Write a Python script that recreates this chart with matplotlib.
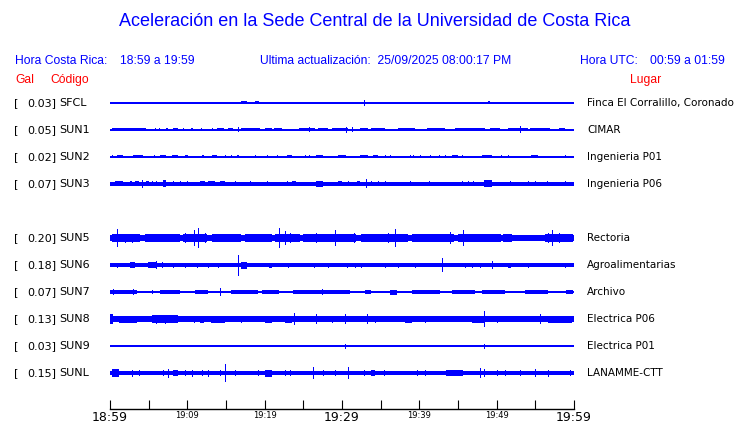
import matplotlib
matplotlib.use("Agg")
import matplotlib.pyplot as plt

# Station data (order top to bottom; row 4 is empty in the reference)
stations = ["SFCL", "SUN1", "SUN2", "SUN3", "SUN5", "SUN6", "SUN7", "SUN8", "SUN9", "SUNL"]
pga_gal = [0.03, 0.05, 0.02, 0.07, 0.20, 0.18, 0.07, 0.13, 0.03, 0.15]
places = ["Finca El Corralillo, Coronado", "CIMAR", "Ingenieria P01", "Ingenieria P06",
          "Rectoria", "Agroalimentarias", "Archivo", "Electrica P06", "Electrica P01",
          "LANAMME-CTT"]
rows = [0, 1, 2, 3, 5, 6, 7, 8, 9, 10]

# Background half-thickness of each trace (px)
base_half = [0.6, 0.7, 0.6, 1.8, 2.9, 1.8, 1.4, 2.8, 0.9, 1.7]

# Bursts: (start minute, end minute, half height px)
sfcl = [(4.5, 4.6, 1.4), (15.1, 15.2, 1.4), (17.0, 17.7, 1.5), (18.7, 19.3, 1.5),
        (28.1, 28.1, 1.0), (31.1, 31.1, 1.4), (32.8, 32.8, 2.8), (48.9, 49.1, 1.5)]
sun1 = [(0.2, 4.7, 1.5), (5.8, 5.9, 1.5), (6.4, 6.5, 1.5), (7.3, 7.5, 1.5), (8.2, 8.8, 1.5),
        (9.5, 9.6, 1.5), (10.5, 10.7, 1.5), (11.8, 11.9, 1.5), (13.2, 13.3, 1.5),
        (13.8, 14.8, 1.5), (15.2, 15.9, 1.5), (17.0, 19.4, 1.5), (20.0, 20.9, 1.5),
        (21.2, 22.2, 1.5), (24.4, 26.5, 1.5), (26.9, 28.2, 1.5), (28.7, 30.8, 1.5),
        (32.3, 33.4, 1.5), (33.8, 35.6, 1.5), (37.3, 39.4, 1.5), (41.0, 43.3, 1.5),
        (44.6, 48.5, 1.5), (49.1, 50.4, 1.5), (51.5, 54.1, 1.5), (54.3, 56.9, 1.5),
        (58.0, 58.8, 1.5), (16.6, 16.6, 2.5), (25.7, 25.7, 2.5), (30.5, 30.5, 3.0),
        (31.3, 31.3, 2.5), (53.0, 53.0, 3.5)]
sun2 = [(0.2, 0.3, 1.5), (0.9, 1.7, 1.5), (3.0, 4.3, 1.5), (5.7, 5.7, 1.5), (6.5, 7.3, 1.5),
        (8.0, 8.8, 1.5), (9.7, 10.1, 1.5), (11.9, 12.2, 1.5), (13.2, 13.8, 1.5),
        (14.9, 14.9, 1.5), (15.7, 15.7, 1.5), (16.4, 16.7, 1.5), (18.8, 18.8, 1.5),
        (20.3, 20.3, 1.5), (21.6, 21.6, 1.5), (22.9, 23.5, 1.5), (25.2, 25.2, 1.5),
        (25.7, 25.7, 1.5), (26.7, 27.6, 1.5), (29.5, 30.5, 1.5), (32.3, 33.4, 1.5),
        (34.0, 34.7, 1.5), (35.6, 35.6, 1.5), (36.2, 36.2, 1.5), (38.8, 38.8, 1.5),
        (39.2, 39.2, 1.5), (40.1, 40.1, 1.5), (41.4, 41.4, 1.5), (42.5, 42.5, 1.5),
        (43.3, 43.3, 1.5), (44.2, 45.0, 1.5), (45.5, 45.5, 1.5), (48.1, 49.4, 1.5),
        (50.6, 50.6, 1.5), (51.5, 51.5, 1.5), (54.5, 55.4, 1.5), (58.8, 58.8, 1.5)]
sun3 = [(0.6, 1.7, 2.5), (2.6, 2.8, 2.5), (3.2, 3.7, 2.5), (4.1, 4.1, 4.0), (4.7, 5.0, 2.5),
        (5.4, 5.4, 2.5), (6.0, 6.0, 2.5), (6.9, 7.3, 3.5), (8.2, 8.2, 2.5), (9.0, 9.0, 2.5),
        (9.9, 9.9, 2.5), (11.6, 12.3, 2.5), (12.7, 13.6, 2.5), (14.2, 14.9, 2.5),
        (16.2, 16.2, 2.5), (18.1, 18.1, 2.5), (20.3, 20.3, 2.5), (22.9, 22.9, 2.5),
        (23.5, 24.1, 2.5), (26.7, 27.6, 3.0), (29.5, 30.0, 2.5), (30.8, 30.8, 2.5),
        (31.9, 32.3, 2.5), (33.1, 33.1, 4.5), (33.8, 33.8, 2.5), (34.7, 34.7, 2.5),
        (35.6, 35.6, 2.5), (38.8, 38.8, 2.5), (41.2, 41.2, 2.5), (45.5, 45.5, 2.5),
        (46.3, 46.3, 2.5), (47.0, 47.0, 2.5), (48.3, 49.4, 3.5), (51.7, 51.7, 2.5),
        (54.1, 54.1, 2.5), (55.0, 55.0, 2.5), (56.5, 56.5, 2.5), (58.8, 58.8, 2.5)]
sun5 = [(0.2, 3.7, 3.6), (4.5, 9.0, 3.6), (9.5, 12.5, 3.6), (13.2, 17.0, 3.6),
        (17.5, 21.0, 3.6), (21.3, 24.5, 3.6), (25.0, 31.8, 3.6), (32.5, 38.5, 3.6),
        (39.0, 44.5, 3.6), (45.0, 50.5, 3.6), (50.8, 52.0, 3.6), (56.3, 59.9, 3.6),
        (0.9, 0.9, 9.0), (1.9, 1.9, 4.5), (2.8, 2.8, 4.5), (3.7, 3.7, 4.0), (4.7, 4.7, 4.0),
        (5.8, 5.8, 4.0), (8.4, 8.4, 4.0), (9.7, 9.7, 5.0), (10.8, 10.8, 8.0),
        (11.4, 11.4, 10.0), (12.3, 12.3, 5.0), (14.7, 14.7, 4.0), (16.6, 16.6, 4.0),
        (20.5, 20.5, 4.0), (21.8, 21.8, 10.0), (22.6, 22.6, 7.0), (23.3, 23.3, 5.0),
        (24.4, 24.4, 4.0), (26.7, 26.7, 5.0), (29.1, 29.1, 8.0), (30.4, 30.4, 4.0),
        (31.5, 31.5, 5.0), (33.0, 33.0, 4.0), (35.1, 35.1, 4.0), (36.0, 36.0, 5.0),
        (36.9, 36.9, 9.0), (38.2, 38.2, 4.0), (40.7, 40.7, 4.0), (42.9, 42.9, 4.0),
        (44.0, 44.0, 6.0), (45.7, 45.7, 8.0), (47.2, 47.2, 4.0), (48.5, 48.5, 4.0),
        (50.0, 50.0, 4.0), (56.7, 56.7, 5.0), (57.1, 57.1, 8.0), (58.0, 58.0, 5.0),
        (59.5, 59.5, 4.0)]
sun6 = [(0.9, 0.9, 2.5), (2.6, 3.2, 3.0), (4.9, 6.1, 3.0), (6.0, 6.0, 4.0), (6.7, 6.7, 3.0),
        (8.2, 8.2, 2.5), (9.7, 9.7, 2.5), (11.2, 11.2, 2.5), (12.7, 12.7, 2.5),
        (14.0, 14.0, 2.5), (16.6, 16.6, 10.5), (17.0, 17.7, 3.5), (20.5, 20.9, 2.5),
        (23.0, 23.0, 2.5), (26.4, 26.4, 2.5), (28.2, 28.2, 2.5), (30.6, 30.6, 2.5),
        (31.7, 31.7, 2.5), (32.5, 32.5, 2.5), (35.6, 35.6, 2.5), (37.3, 37.3, 2.5),
        (39.4, 39.4, 2.5), (42.9, 42.9, 7.0), (45.9, 45.9, 2.5), (46.8, 46.8, 2.5),
        (47.8, 47.8, 2.5), (49.4, 49.4, 4.0), (51.5, 51.9, 2.5), (54.1, 54.1, 2.5),
        (58.8, 58.8, 2.5)]
sun7 = [(0.0, 3.5, 2.0), (5.4, 5.6, 2.0), (6.5, 9.1, 2.0), (11.0, 12.7, 2.0),
        (15.7, 19.2, 2.0), (19.6, 21.8, 2.0), (23.7, 31.0, 2.0), (33.0, 33.8, 2.0),
        (36.2, 37.1, 2.5), (39.0, 42.7, 2.0), (44.2, 47.2, 2.0), (48.1, 51.1, 2.0),
        (53.7, 56.7, 2.0), (59.0, 59.9, 2.0), (0.4, 0.4, 3.0), (3.0, 3.0, 3.0),
        (14.2, 14.2, 4.0), (27.4, 27.4, 3.0)]
sun8 = [(0.0, 0.4, 5.0), (1.1, 3.5, 3.5), (5.4, 8.8, 3.8), (6.0, 6.0, 4.5), (7.1, 7.1, 4.5),
        (10.8, 10.8, 3.5), (11.6, 12.1, 3.5), (13.1, 14.9, 3.5), (17.0, 17.0, 3.5),
        (20.0, 20.9, 3.5), (22.6, 23.5, 3.5), (23.8, 23.8, 6.0), (26.7, 26.7, 5.0),
        (28.7, 28.7, 3.5), (30.4, 30.4, 5.0), (33.2, 33.2, 5.0), (34.3, 34.3, 3.5),
        (38.2, 39.0, 3.5), (40.7, 40.7, 3.5), (46.8, 48.4, 3.5), (48.4, 48.4, 8.0),
        (50.0, 50.0, 3.5), (55.6, 55.6, 5.0), (56.7, 59.7, 3.5)]
sun9 = [(0.0, 9.7, 1.4), (9.9, 17.5, 1.4), (17.9, 25.2, 1.4), (25.7, 35.1, 1.4),
        (35.8, 35.8, 1.4), (37.1, 42.5, 1.4), (42.9, 48.1, 1.4), (48.3, 48.5, 2.5),
        (49.8, 57.1, 1.4), (57.5, 59.9, 1.4), (30.4, 30.4, 2.5)]
sunl = [(0.2, 1.1, 4.0), (2.8, 2.8, 3.5), (3.7, 3.7, 3.0), (6.9, 6.9, 3.0), (7.5, 7.5, 4.5),
        (8.2, 8.8, 3.0), (9.7, 9.7, 3.0), (10.6, 10.6, 3.5), (11.9, 11.9, 3.0),
        (12.7, 12.7, 3.5), (14.2, 14.2, 3.0), (14.9, 14.9, 9.0), (16.2, 16.2, 3.0),
        (19.2, 19.2, 3.0), (20.0, 20.9, 3.5), (22.6, 22.6, 3.0), (23.3, 23.3, 3.0),
        (26.2, 26.2, 6.0), (27.6, 27.6, 3.0), (29.1, 29.1, 3.0), (30.8, 30.8, 6.0),
        (32.8, 32.8, 3.0), (33.8, 34.3, 3.0), (35.4, 35.4, 3.0), (39.7, 39.7, 3.0),
        (40.7, 40.7, 3.0), (43.5, 45.7, 3.0), (47.8, 47.8, 5.0), (48.4, 48.4, 4.0),
        (50.0, 50.0, 3.0), (51.1, 51.1, 3.0), (53.0, 53.0, 3.0), (55.0, 55.0, 4.0),
        (56.7, 56.7, 3.5), (59.5, 59.5, 3.0)]
events = [sfcl, sun1, sun2, sun3, sun5, sun6, sun7, sun8, sun9, sunl]

# Time axis (minutes after 18:59)
tick_minutes = list(range(0, 61, 5))
tick_labels = ["18:59", "", "19:09", "", "19:19", "", "19:29",
               "", "19:39", "", "19:49", "", "19:59"]
major_labels = ["18:59", "19:29", "19:59"]

BLUE = "#0000ff"
RED = "#ff0000"
W, H = 740, 423


def fpos(x, y):
    return x / W, 1 - y / H


fig = plt.figure(figsize=(W / 100, H / 100), dpi=100)

# axes in pixel-like y units so rows sit at fixed pixel positions
ax = fig.add_axes([110 / W, 1 - 409 / H, 464 / W, (409 - 90) / H])
ax.set_xlim(0, 60)
ax.set_ylim(409, 90)

for i, name in enumerate(stations):
    yc = 103 + 27 * rows[i]
    b = base_half[i]
    ax.broken_barh([(0, 60)], (yc - b, 2 * b), facecolor=BLUE, linewidth=0,
                   antialiased=False)
    for s, e, h in events[i]:
        w = max(e - s, 0.13)
        ax.broken_barh([(s, w)], (yc - h, 2 * h), facecolor=BLUE, linewidth=0,
                       antialiased=False)

    fig.text(*fpos(14, yc), "[", fontsize=8, va="center", family="DejaVu Sans")
    fig.text(*fpos(56, yc), f"{pga_gal[i]:.2f}]", fontsize=8, va="center", ha="right",
             family="DejaVu Sans")
    fig.text(*fpos(59, yc), name, fontsize=8, va="center", family="DejaVu Sans")
    fig.text(*fpos(587, yc), places[i], fontsize=7.5, va="center", family="DejaVu Sans")

for side in ["top", "left", "right"]:
    ax.spines[side].set_visible(False)
ax.spines["bottom"].set_linewidth(1)
ax.set_yticks([])
ax.set_xticks(tick_minutes, tick_labels)
ax.tick_params(axis="x", direction="in", length=6.5, width=0.8, pad=1.5)
for lab in ax.get_xticklabels():
    if lab.get_text() in major_labels:
        lab.set_fontsize(9)
    else:
        lab.set_fontsize(6)

# Header texts
fig.text(*fpos(375, 22), "Aceleración en la Sede Central de la Universidad de Costa Rica",
         color=BLUE, fontsize=13, ha="center", va="center", family="Liberation Sans")
hdr = dict(color=BLUE, fontsize=8.7, va="center", family="Liberation Sans")
fig.text(*fpos(15, 61), "Hora Costa Rica:", **hdr)
fig.text(*fpos(120, 61), "18:59 a 19:59", **hdr)
fig.text(*fpos(260, 61), "Ultima actualización:  25/09/2025 08:00:17 PM", **hdr)
fig.text(*fpos(580, 61), "Hora UTC:", **hdr)
fig.text(*fpos(650, 61), "00:59 a 01:59", **hdr)
red = dict(color=RED, fontsize=8.7, va="center", family="Liberation Sans")
fig.text(*fpos(15, 80), "Gal", **red)
fig.text(*fpos(50, 80), "Código", **red)
fig.text(*fpos(630, 80), "Lugar", **red)

fig.savefig("out.png", dpi=100, facecolor="white")
